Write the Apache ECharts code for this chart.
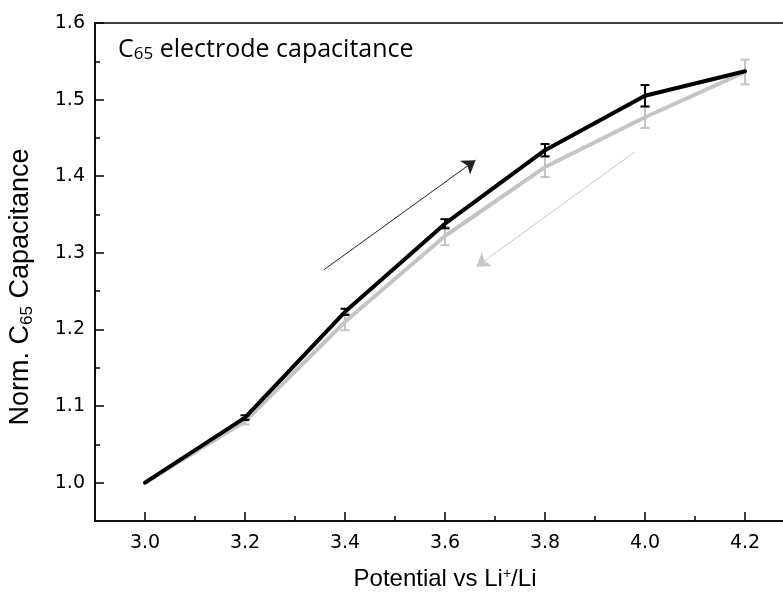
<!DOCTYPE html>
<html>
<head>
<meta charset="utf-8">
<script src="https://cdn.jsdelivr.net/npm/echarts@6/dist/echarts.min.js"></script>
<style>html,body{margin:0;padding:0;background:#fff}#c{width:783px;height:592px}</style>
</head>
<body>
<div id="c"></div>
<script>
const potential = [3.0, 3.2, 3.4, 3.6, 3.8, 4.0, 4.2];
const chargeCap = [1.000, 1.085, 1.223, 1.338, 1.434, 1.505, 1.537];
const chargeErr = [0, 0.003, 0.004, 0.006, 0.008, 0.014, 0];
const dischargeCap = [1.000, 1.080, 1.210, 1.322, 1.412, 1.477, 1.536];
const dischargeErr = [0, 0.004, 0.011, 0.012, 0.013, 0.014, 0.016];
const xTicks = [3.0, 3.2, 3.4, 3.6, 3.8, 4.0, 4.2];
const xMinorTicks = [3.1, 3.3, 3.5, 3.7, 3.9, 4.1];
const yTicks = [1.0, 1.1, 1.2, 1.3, 1.4, 1.5, 1.6];
const yMinorTicks = [1.05, 1.15, 1.25, 1.35, 1.45, 1.55];
const chargeArrow = [[3.358, 1.278], [3.661, 1.421]];
const dischargeArrow = [[3.980, 1.432], [3.663, 1.282]];

const BLACK = '#000000';
const GRAY = '#c4c4c4';
const FONT = '"Liberation Sans", Arial, sans-serif';
const TICKFONT = '"DejaVu Sans", "Liberation Sans", sans-serif';
const TFONT = '"Open Sans", Lato, sans-serif';

function pairs(xs, ys) { return xs.map((x, i) => [x, ys[i]]); }
function errData(xs, ys, es) { return xs.map((x, i) => [x, ys[i] - es[i], ys[i] + es[i], es[i]]); }
function errRender(color) {
  return function (params, api) {
    if (api.value(3) <= 0) return null;
    const x = api.value(0);
    const lo = api.coord([x, api.value(1)]);
    const hi = api.coord([x, api.value(2)]);
    const hw = 4.5;
    const style = { stroke: color, lineWidth: 2 };
    return {
      type: 'group',
      children: [
        { type: 'line', shape: { x1: hi[0], y1: hi[1], x2: lo[0], y2: lo[1] }, style },
        { type: 'line', shape: { x1: hi[0] - hw, y1: hi[1], x2: hi[0] + hw, y2: hi[1] }, style },
        { type: 'line', shape: { x1: lo[0] - hw, y1: lo[1], x2: lo[0] + hw, y2: lo[1] }, style }
      ]
    };
  };
}

const chart = echarts.init(document.getElementById('c'), null, { renderer: 'canvas' });
const baseAxisLine = { show: true, lineStyle: { color: BLACK, width: 1.5 } };
chart.setOption({
  animation: false,
  backgroundColor: '#fff',
  title: {
    text: '{a|C}{s|65}{a| electrode capacitance}',
    left: 113, top: 31,
    textStyle: {
      fontWeight: 'normal',
      rich: {
        a: { fontFamily: TFONT, fontSize: 25, fontWeight: 'normal', color: '#000' },
        s: { fontFamily: TFONT, fontSize: 17, fontWeight: 'normal', color: '#000', padding: [10, 0, 0, 0] }
      }
    }
  },
  grid: { left: 95, top: 23, width: 700, height: 498, outerBoundsMode: 'none', containLabel: false, show: true, borderColor: BLACK, borderWidth: 1.5, backgroundColor: 'transparent' },
  xAxis: [
    {
      type: 'value', min: 2.9, max: 4.3, position: 'bottom',
      name: '{n|Potential vs Li}{p|+}{n|/Li}', nameLocation: 'middle', nameGap: 46,
      nameTextStyle: { rich: { n: { fontFamily: FONT, fontSize: 24, color: '#000' }, p: { fontFamily: FONT, fontSize: 14, color: '#000', padding: [0, 0, 11, 0] } } },
      axisLine: baseAxisLine,
      axisTick: { show: true, inside: true, length: 9, customValues: xTicks, lineStyle: { color: BLACK, width: 1.5 } },
      axisLabel: { customValues: xTicks, margin: 13, fontFamily: TICKFONT, fontSize: 19, color: '#000', formatter: v => v.toFixed(1) },
      splitLine: { show: false }
    },
    {
      type: 'value', min: 2.9, max: 4.3, position: 'bottom',
      axisLine: { show: false },
      axisTick: { show: true, inside: true, length: 5, customValues: xMinorTicks, lineStyle: { color: BLACK, width: 1.5 } },
      axisLabel: { show: false },
      splitLine: { show: false }
    }
  ],
  yAxis: [
    {
      type: 'value', min: 0.95, max: 1.6, position: 'left',
      name: '{n|Norm. C}{s|65}{n| Capacitance}', nameLocation: 'middle', nameGap: 59, nameRotate: 90,
      nameTextStyle: { padding: [0, 30, 0, 0], rich: { n: { fontFamily: FONT, fontSize: 27, color: '#000' }, s: { fontFamily: FONT, fontSize: 17, color: '#000', padding: [14, 0, 0, 0] } } },
      axisLine: baseAxisLine,
      axisTick: { show: true, inside: true, length: 9, customValues: yTicks, lineStyle: { color: BLACK, width: 1.5 } },
      axisLabel: { customValues: yTicks, margin: 10, fontFamily: TICKFONT, fontSize: 19, color: '#000', formatter: v => v.toFixed(1) },
      splitLine: { show: false }
    },
    {
      type: 'value', min: 0.95, max: 1.6, position: 'left',
      axisLine: { show: false },
      axisTick: { show: true, inside: true, length: 5, customValues: yMinorTicks, lineStyle: { color: BLACK, width: 1.5 } },
      axisLabel: { show: false },
      splitLine: { show: false }
    }
  ],
  series: [
    {
      name: 'Discharge', type: 'line', data: pairs(potential, dischargeCap),
      showSymbol: false, symbol: 'none', lineStyle: { color: GRAY, width: 4, join: 'round', cap: 'round' }, z: 2
    },
    {
      name: 'Discharge error', type: 'custom', data: errData(potential, dischargeCap, dischargeErr),
      renderItem: errRender(GRAY), z: 3
    },
    {
      name: 'Charge', type: 'line', data: pairs(potential, chargeCap),
      showSymbol: false, symbol: 'none', lineStyle: { color: BLACK, width: 4, join: 'round', cap: 'round' }, z: 4
    },
    {
      name: 'Charge error', type: 'custom', data: errData(potential, chargeCap, chargeErr),
      renderItem: errRender(BLACK), z: 5
    },
    {
      name: 'Arrows', type: 'lines', coordinateSystem: 'cartesian2d',
      symbol: ['none', 'arrow'], symbolSize: 13,
      data: [
        { coords: chargeArrow, lineStyle: { color: '#222', width: 1, opacity: 1 } },
        { coords: dischargeArrow, lineStyle: { color: '#c8c8c8', width: 1, opacity: 1 } }
      ],
      z: 6
    }
  ]
});
</script>
</body>
</html>
